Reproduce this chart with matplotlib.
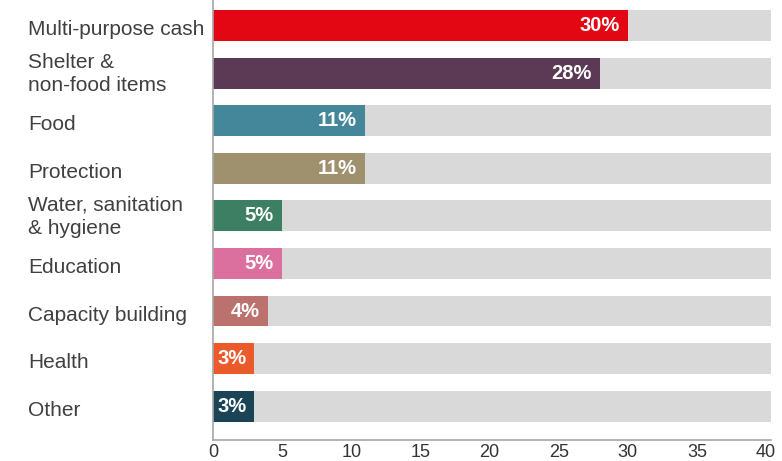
import matplotlib
matplotlib.use("Agg")
import matplotlib.pyplot as plt
from matplotlib.transforms import blended_transform_factory, offset_copy

plt.rcParams["font.family"] = ["Liberation Sans", "DejaVu Sans"]

categories = [
    "Multi-purpose cash",
    "Shelter &\nnon-food items",
    "Food",
    "Protection",
    "Water, sanitation\n& hygiene",
    "Education",
    "Capacity building",
    "Health",
    "Other",
]
shares = [30, 28, 11, 11, 5, 5, 4, 3, 3]
colors = [
    "#E30613", "#5C3A55", "#45879A", "#A0916E", "#3C7F63",
    "#DB6F9D", "#BB726E", "#EB5A2A", "#1B4556",
]
xticks = [0, 5, 10, 15, 20, 25, 30, 35, 40]

W, H = 782, 461
fig = plt.figure(figsize=(W / 100, H / 100), dpi=100)
ax = fig.add_axes([213 / W, (H - 440) / H, (771 - 213) / W, 440 / H])

xmax = 40.35
ypos = list(range(len(categories)))
bar_h = 0.65

ax.barh(ypos, [xmax] * len(ypos), height=bar_h, color="#D9D9D9", zorder=1)
ax.barh(ypos, shares, height=bar_h, color=colors, zorder=2)

for y, v in zip(ypos, shares):
    ax.text(v - 0.6, y, f"{v}%", ha="right", va="center", color="white",
            fontsize=14.5, fontweight="bold", zorder=3)

lab_tr = blended_transform_factory(fig.transFigure, ax.transData)
for y, name in zip(ypos, categories):
    drop = 1 if "\n" in name else 4
    tr = offset_copy(lab_tr, fig=fig, x=0, y=-drop, units="dots")
    ax.text(28 / W, y, name, transform=tr, ha="left", va="center",
            fontsize=15, color="#404040", linespacing=1.3)

ax.set_xlim(0, xmax)
ax.set_ylim(8.71, -0.535)
ax.set_xticks(xticks)
ax.set_xticklabels([str(t) for t in xticks])
ax.set_yticks([])
ax.tick_params(axis="x", length=0, pad=3, labelsize=13, labelcolor="#333333")

for side in ("top", "right"):
    ax.spines[side].set_visible(False)
for side in ("left", "bottom"):
    ax.spines[side].set_color("#A6A6A6")
    ax.spines[side].set_linewidth(1.2)

fig.savefig("out.png", dpi=100)
